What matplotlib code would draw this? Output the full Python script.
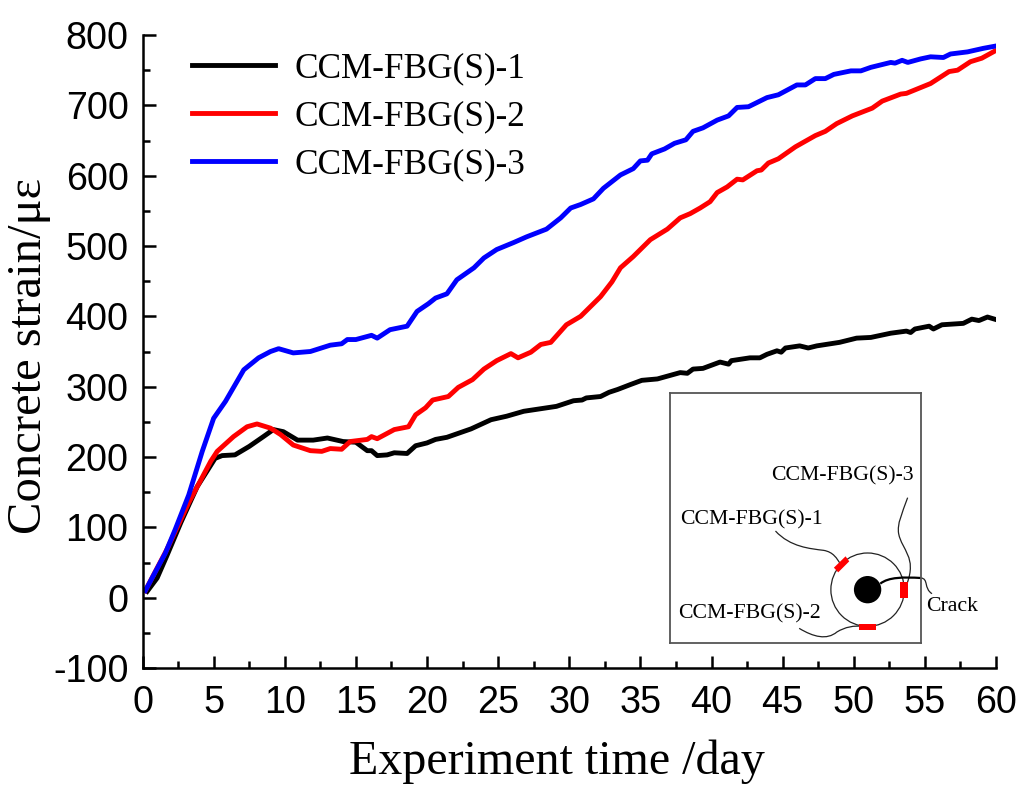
#!/usr/bin/env python3
"""Concrete strain against experiment time, with the sensor layout inset."""

import matplotlib
matplotlib.use("Agg")
import matplotlib.pyplot as plt
from matplotlib.patches import Circle, PathPatch, Polygon, Rectangle
from matplotlib.path import Path

SERIF = "Liberation Serif"
SANS = "Liberation Sans"
W, H = 1024, 791

t1 = [0.33, 1.03, 1.7, 2.7, 3.85, 5.1, 5.6, 6.5, 7.5, 8.5, 9.2, 9.9, 10.9, 12, 13, 14.1, 15, 15.8, 16.1, 16.5,
      17.2, 17.7, 18.6, 19.2, 20, 20.6, 21.4, 23.1, 24.5, 25.6, 26.8, 29.1, 30.3, 30.9, 31.2, 32.2, 32.8, 33.4,
      34.3, 35.1, 36.2, 37.8, 38.3, 38.7, 39.4, 40.6, 41.2, 41.4, 42.7, 43.4, 43.9, 44.6, 44.9, 45.2, 46.2, 46.8,
      47.4, 49, 50.2, 51.2, 52.6, 53.7, 54, 54.3, 55.3, 55.6, 56.2, 57.7, 58.3, 58.8, 59.4, 59.9]
s1 = [9, 28, 59, 107, 158, 198, 202, 203, 215, 229, 239, 236, 224, 224, 227, 222, 221, 209, 209, 202,
      203, 206, 205, 216, 220, 225, 228, 240, 253, 258, 265, 272, 280, 281, 284, 286, 292, 296,
      303, 309, 311, 320, 319, 325, 326, 335, 332, 337, 341, 341, 346, 351, 349, 355, 358, 355,
      358, 363, 369, 370, 376, 379, 377, 382, 386, 382, 388, 390, 396, 394, 399, 396]
t2 = [0.2, 1.7, 3.25, 4.8, 5.25, 6.4, 7.35, 8.05, 9, 9.7, 10.6, 11.8, 12.6, 13.2, 14, 14.6, 15.8, 16.1, 16.5, 17.7,
      18.7, 19.2, 19.9, 20.4, 21.5, 22.2, 23.2, 24, 24.9, 25.9, 26.4, 27.3, 28, 28.7, 29.8, 30.8, 32.2, 33, 33.6,
      34.5, 35.7, 36.9, 37.8, 38.5, 39.2, 39.9, 40.4, 41.1, 41.8, 42.2, 43.2, 43.5, 44, 44.7, 45.9, 47.3, 48, 48.8,
      49.9, 51.3, 52, 53.3, 53.7, 55.4, 56.7, 57.3, 58.2, 59, 59.9]
s2 = [10, 68, 135, 194, 208, 229, 243, 247, 241, 232, 217, 209, 208, 212, 211, 222, 225, 229, 226, 239,
      243, 260, 270, 281, 286, 299, 310, 325, 337, 347, 341, 349, 360, 363, 388, 400, 428, 449, 469,
      485, 509, 524, 540, 546, 554, 563, 576, 584, 595, 594, 607, 608, 618, 624, 641, 657, 663, 674,
      685, 696, 706, 716, 717, 731, 748, 750, 762, 767, 777]
t3 = [0.2, 1.6, 2.3, 3.25, 4.2, 5, 5.83, 7.12, 8.16, 9, 9.57, 10.6, 11.8, 13.2, 14, 14.4, 15, 16.1, 16.5, 17.4,
      18.6, 19.3, 20.1, 20.6, 21.4, 22.1, 23.3, 24, 24.9, 26.1, 27, 28.4, 29.4, 30.1, 30.8, 31.7, 32.4, 33.6, 34.5,
      35, 35.5, 35.8, 36.7, 37.4, 38.2, 38.7, 39.4, 40.4, 41.2, 41.8, 42.6, 43.9, 44.7, 46, 46.6, 47.3, 48, 48.6,
      49.8, 50.5, 51.2, 52.6, 52.9, 53.4, 53.8, 54.7, 55.4, 56.3, 56.8, 58, 59.1, 59.9]
s3 = [10, 63, 97, 146, 208, 255, 279, 324, 341, 350, 354, 348, 350, 359, 361, 367, 367, 373, 369, 381,
      386, 407, 418, 426, 432, 452, 469, 483, 495, 505, 513, 524, 540, 554, 559, 567, 582, 601, 610,
      621, 622, 631, 638, 646, 651, 663, 668, 679, 685, 697, 698, 711, 715, 729, 729, 738, 738, 744,
      749, 749, 754, 761, 760, 764, 761, 766, 769, 768, 773, 776, 781, 784]
labels = ["CCM-FBG(S)-1", "CCM-FBG(S)-2", "CCM-FBG(S)-3"]
colors = ["black", "red", "blue"]


def curve(ax, pts, lw=0.9, color="#222222", clip=True):
    # pts: start point then triples of bezier points
    codes = [Path.MOVETO] + [Path.CURVE4] * (len(pts) - 1)
    ax.add_patch(PathPatch(Path(pts, codes), fc="none", ec=color, lw=lw, clip_on=clip))


def draw_inset(fig):
    # inset axes use pixels of the 3x crop of the schematic
    ins = fig.add_axes([670 / W, 1 - 643 / H, 251 / W, 250 / H])
    ins.set_xlim(60, 812)
    ins.set_ylim(788, 38)
    ins.set_xticks([])
    ins.set_yticks([])
    for sp in ins.spines.values():
        sp.set_color("#555555")
        sp.set_linewidth(1.3)

    ins.add_patch(Circle((652, 628), 110, fc="none", ec="#222222", lw=0.9))
    ins.add_patch(Circle((652, 628), 41, fc="black", ec="none"))

    curve(ins, [(376, 452), (420, 500), (480, 505), (520, 510), (550, 515), (560, 535), (570, 550)])
    curve(ins, [(772, 352), (755, 400), (740, 430), (745, 460), (755, 510), (800, 530), (770, 610)])
    curve(ins, [(447, 744), (490, 770), (530, 780), (560, 755), (585, 740), (610, 735), (640, 738)])
    curve(ins, [(690, 610), (715, 590), (760, 590), (812, 593)], lw=1.6, color="black")
    curve(ins, [(812, 593), (835, 595), (820, 625), (845, 640)], clip=False)

    ins.add_patch(Polygon([(551, 562), (586, 528), (597, 543), (564, 576)], fc="red", ec="none", zorder=3))
    ins.add_patch(Rectangle((750, 604), 23, 48, fc="red", ec="none", zorder=3))
    ins.add_patch(Rectangle((627, 730), 49, 20, fc="red", ec="none", zorder=3))

    ins.text(362, 286, labels[2], family=SERIF, fontsize=15.7, va="center", ha="left")
    ins.text(90, 418, labels[0], family=SERIF, fontsize=15.7, va="center", ha="left")
    ins.text(84, 700, labels[1], family=SERIF, fontsize=15.7, va="center", ha="left")
    ins.text(826, 678, "Crack", family=SERIF, fontsize=15.7, va="center", ha="left", clip_on=False)


def main():
    plt.rcParams["axes.unicode_minus"] = False
    fig = plt.figure(figsize=(W / 100, H / 100), dpi=100)
    ax = fig.add_axes([142.5 / W, 1 - 668 / H, 853.5 / W, 633 / H])

    ax.plot(t1, s1, color=colors[0], lw=3.5, label=labels[0])
    ax.plot(t2, s2, color=colors[1], lw=3.5, label=labels[1])
    ax.plot(t3, s3, color=colors[2], lw=3.5, label=labels[2])

    ax.set_xlim(0, 60)
    ax.set_ylim(-100, 800)
    ax.set_xticks(range(0, 61, 5))
    ax.set_xticks([x + 2.5 for x in range(0, 60, 5)], minor=True)
    ax.set_yticks(range(-100, 801, 100))
    ax.set_yticks(range(-50, 800, 100), minor=True)
    ax.spines["top"].set_visible(False)
    ax.spines["right"].set_visible(False)
    for side in ("left", "bottom"):
        ax.spines[side].set_linewidth(1.8)
    ax.tick_params(which="major", direction="in", length=9, width=1.8)
    ax.tick_params(which="minor", direction="in", length=4.8, width=1.8)
    ax.tick_params(axis="x", which="major", pad=12)
    ax.tick_params(axis="y", which="major", pad=10)
    for lab in ax.get_xticklabels() + ax.get_yticklabels():
        lab.set_family(SANS)
        lab.set_fontsize(27.2)

    fig.text(557 / W, 1 - 774 / H, "Experiment time /day", family=SERIF, fontsize=34.6,
             ha="center", va="baseline")
    fig.text(41.5 / W, 1 - 356 / H, "Concrete strain/\u03bc\u03b5", family=SERIF, fontsize=35,
             rotation=90, ha="center", va="baseline", rotation_mode="anchor")

    ax.legend(loc="upper left", bbox_to_anchor=(0.0585, 0.972), frameon=False,
              prop={"family": SERIF, "size": 25.4}, handlelength=2.35, handletextpad=0.55,
              labelspacing=0.42, borderpad=0, borderaxespad=0)

    draw_inset(fig)
    fig.savefig("out.png", dpi=100, facecolor="white")
    plt.close(fig)


if __name__ == "__main__":
    main()
